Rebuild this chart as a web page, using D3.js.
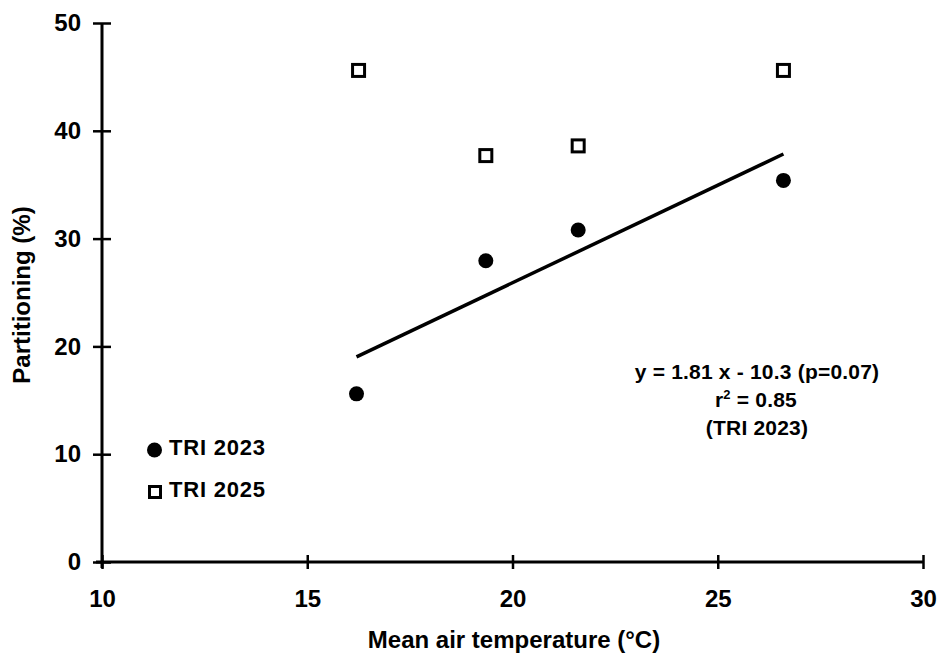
<!DOCTYPE html>
<html lang="en">
<head>
  <meta charset="UTF-8">
  <title>Partitioning vs. Mean air temperature</title>
  <script src="https://d3js.org/d3.v7.min.js"></script>
  <style>
    body { margin: 0; background: #fff; }
    svg { display: block; font-family: "Liberation Sans", Arial, sans-serif; font-weight: bold; }
  </style>
</head>
<body>
  <svg id="chart" width="940" height="663"></svg>
  <script>
    // Data
    const tri2023Temp = [16.2, 19.35, 21.6, 26.6];
    const tri2023Part = [15.6, 27.95, 30.8, 35.4];
    const tri2025Temp = [16.25, 19.35, 21.6, 26.6];
    const tri2025Part = [45.6, 37.7, 38.6, 45.6];
    const xTicks = [10, 15, 20, 25, 30];
    const yTicks = [0, 10, 20, 30, 40, 50];
    const fitSlope = 1.81, fitIntercept = -10.3;

    const svg = d3.select("#chart");

    const x = d3.scaleLinear().domain([10, 30]).range([102, 923]);
    const y = d3.scaleLinear().domain([0, 50]).range([562, 23]);

    // X axis
    const gx = svg.append("g")
      .attr("transform", `translate(0,${y(0)})`)
      .call(d3.axisBottom(x).tickValues(xTicks).tickSizeOuter(0));
    gx.select(".domain").attr("stroke-width", 3).attr("d", `M${x(10) - 6},0H${x(30)}`);
    gx.selectAll(".tick line").attr("y1", -7).attr("y2", 7).attr("stroke-width", 2.5);
    gx.selectAll(".tick text")
      .attr("y", 45).attr("dy", null)
      .attr("font-size", 24).attr("font-family", "Liberation Sans").attr("font-weight", "bold").attr("fill", "#000");

    // Y axis
    const gy = svg.append("g")
      .attr("transform", `translate(${x(10)},0)`)
      .call(d3.axisLeft(y).tickValues(yTicks).tickSizeOuter(0));
    gy.select(".domain").attr("stroke-width", 3).attr("d", `M0,${y(0) + 6}V${y(50)}`);
    gy.selectAll(".tick line").attr("x1", -9).attr("x2", 9).attr("stroke-width", 2.5);
    gy.selectAll(".tick text")
      .attr("x", -21)
      .attr("font-size", 24).attr("font-family", "Liberation Sans").attr("font-weight", "bold").attr("fill", "#000");

    // Axis titles
    svg.append("text")
      .attr("x", 514).attr("y", 648)
      .attr("text-anchor", "middle")
      .attr("font-size", 24)
      .text("Mean air temperature (°C)");

    svg.append("text")
      .attr("transform", "translate(30,295) rotate(-90)")
      .attr("text-anchor", "middle")
      .attr("font-size", 24)
      .text("Partitioning (%)");

    // Regression line (TRI 2023)
    const fitX = d3.extent(tri2023Temp);
    svg.append("path")
      .datum(fitX)
      .attr("fill", "none")
      .attr("stroke", "#000")
      .attr("stroke-width", 3.5)
      .attr("d", d3.line().x(d => x(d)).y(d => y(fitSlope * d + fitIntercept)));

    // TRI 2023 points
    svg.selectAll(".dot2023")
      .data(tri2023Temp)
      .enter()
      .append("circle")
      .attr("class", "dot2023")
      .attr("cx", d => x(d))
      .attr("cy", (d, i) => y(tri2023Part[i]))
      .attr("r", 7.5)
      .attr("fill", "#000");

    // TRI 2025 points
    const sq = 12;
    svg.selectAll(".sq2025")
      .data(tri2025Temp)
      .enter()
      .append("rect")
      .attr("class", "sq2025")
      .attr("x", d => x(d) - sq / 2)
      .attr("y", (d, i) => y(tri2025Part[i]) - sq / 2)
      .attr("width", sq).attr("height", sq)
      .attr("fill", "#fff")
      .attr("stroke", "#000")
      .attr("stroke-width", 3);

    // Legend
    svg.append("circle").attr("cx", 154.5).attr("cy", 450).attr("r", 7.5).attr("fill", "#000");
    svg.append("text").attr("x", 169).attr("y", 455).attr("font-size", 22).attr("letter-spacing", 0.8).text("TRI 2023");
    svg.append("rect").attr("x", 149.5).attr("y", 486.5).attr("width", 11).attr("height", 11)
      .attr("fill", "#fff").attr("stroke", "#000").attr("stroke-width", 3);
    svg.append("text").attr("x", 169).attr("y", 497).attr("font-size", 22).attr("letter-spacing", 0.8).text("TRI 2025");

    // Fit annotation
    const ann = svg.append("g").attr("text-anchor", "middle").attr("font-size", 21).attr("letter-spacing", 0.2);
    ann.append("text").attr("x", 757).attr("y", 379).text("y = 1.81 x - 10.3 (p=0.07)");
    const r2 = ann.append("text").attr("x", 756).attr("y", 407);
    r2.append("tspan").text("r");
    r2.append("tspan").attr("dy", -8).attr("font-size", 13).text("2");
    r2.append("tspan").attr("dy", 8).text(" = 0.85");
    ann.append("text").attr("x", 757).attr("y", 435).text("(TRI 2023)");
  </script>
</body>
</html>
